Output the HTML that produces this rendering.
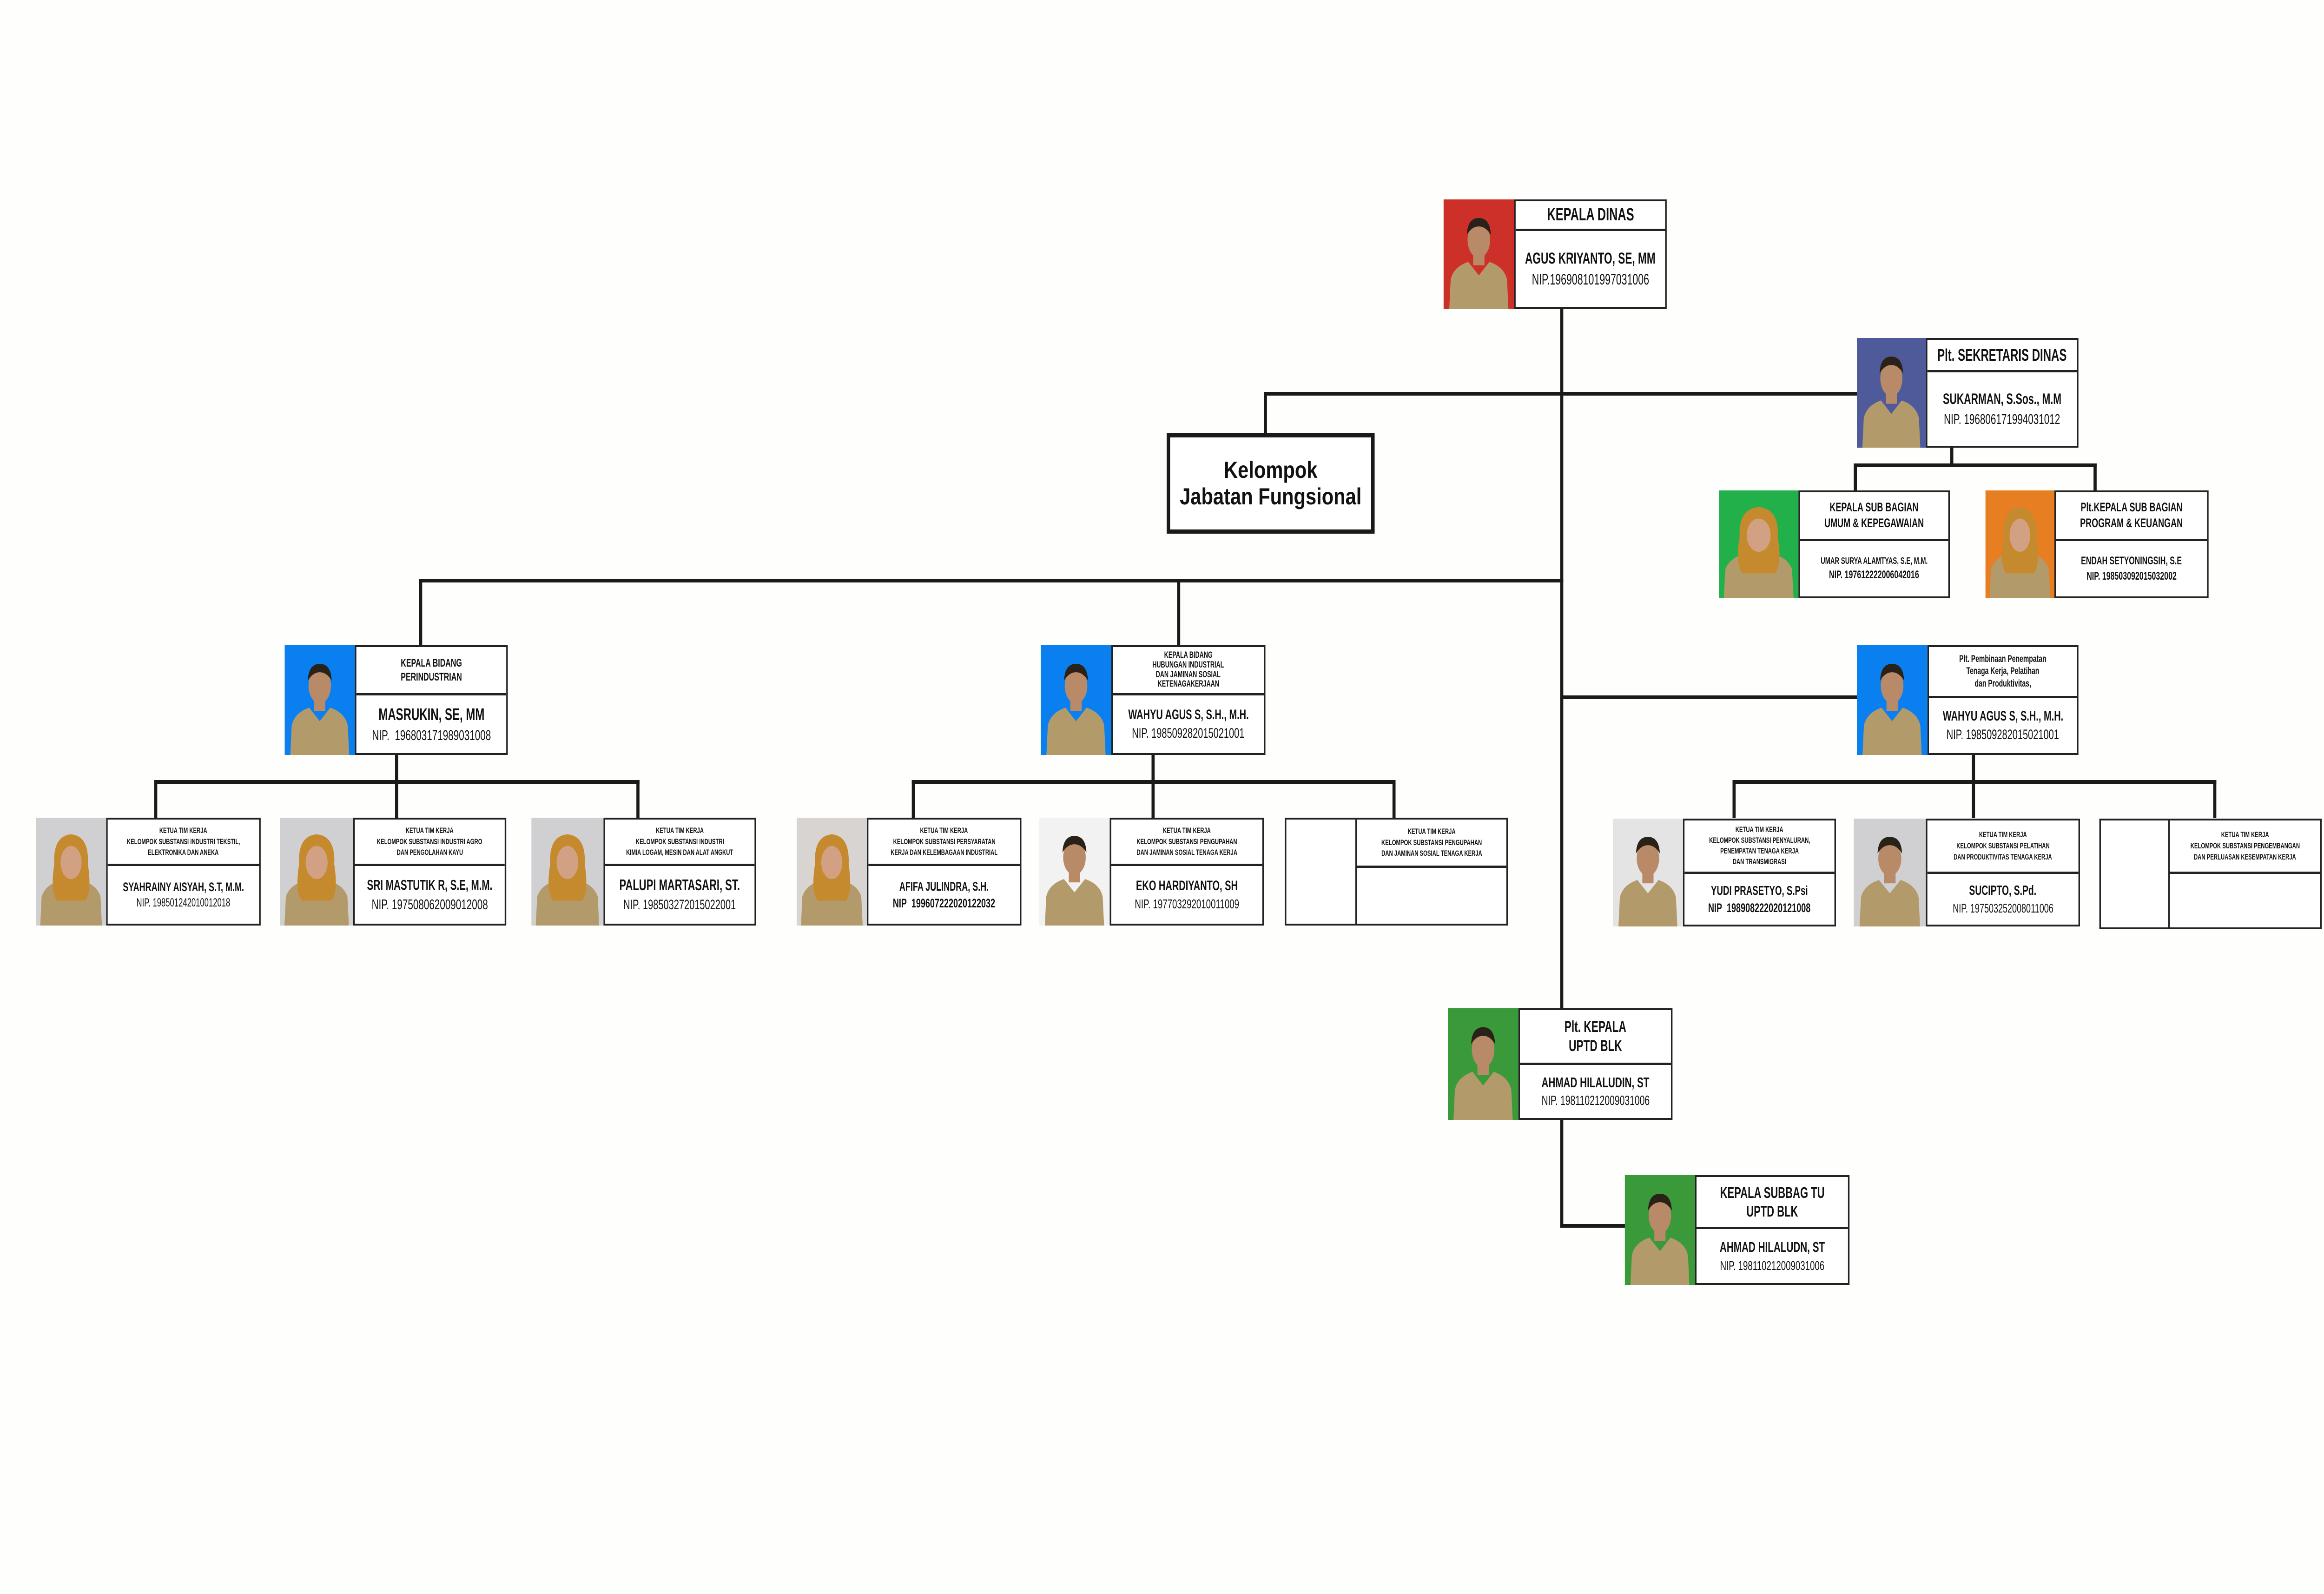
<!DOCTYPE html>
<html><head><meta charset="utf-8">
<style>
*{margin:0;padding:0;box-sizing:border-box}
html,body{width:100%;height:100%;overflow:hidden;background:#fefefc}
#root{position:fixed;left:0;top:0;width:100vw;height:100vh;display:block}
#pg{width:6000px;height:3429px;position:relative;background:#fefefc;font-family:"Liberation Sans Narrow","Liberation Sans",sans-serif;color:#111}
.l{position:absolute;background:#1a1a1a}
.c{position:absolute;display:flex}
.ph{height:100%;position:relative;overflow:hidden}
.ph svg{position:absolute;left:0;top:0;width:100%;height:100%}
.bx{flex:1;height:100%;border:4px solid #222;display:flex;flex-direction:column;background:#fff;overflow:hidden}
.hd{border-bottom:5px solid #222;display:flex;flex-direction:column;align-items:center;justify-content:center;text-align:center;font-weight:bold;line-height:1.25}
.bd{flex:1;display:flex;flex-direction:column;align-items:center;justify-content:center;text-align:center;line-height:1.35}
.hd>div,.bd>div{white-space:nowrap;transform:scaleX(0.8)}
.nm{font-weight:bold}
</style></head><body>
<svg id="root" viewBox="0 0 6000 3429" preserveAspectRatio="none" xmlns="http://www.w3.org/2000/svg">
<defs>
<symbol id="m" viewBox="0 0 100 130" preserveAspectRatio="none">
<path d="M8 130 L10 95 Q14 80 35 74 L50 90 L65 74 Q86 80 90 95 L92 130Z" fill="#b39a6a"/>
<rect x="42" y="62" width="16" height="16" fill="#b88a68"/>
<ellipse cx="50" cy="48" rx="16" ry="21" fill="#b88a68"/>
<path d="M33 42 Q34 22 50 22 Q66 22 67 42 Q60 32 50 32 Q40 32 33 42Z" fill="#2a2218"/>
</symbol>
<symbol id="f" viewBox="0 0 100 130" preserveAspectRatio="none">
<path d="M6 130 L8 95 Q14 80 35 76 L65 76 Q86 80 92 95 L94 130Z" fill="#b39a6a"/>
<path d="M26 56 Q24 22 50 20 Q76 22 74 56 Q80 90 70 100 L30 100 Q20 90 26 56Z" fill="#c68a2e"/>
<ellipse cx="50" cy="54" rx="15" ry="20" fill="#d2a184"/>
</symbol>
</defs>
<foreignObject x="0" y="0" width="6000" height="3429">
<div xmlns="http://www.w3.org/1999/xhtml" id="pg">

<div class="l" style="left:4028px;top:665px;width:8px;height:1976px"></div>
<div class="l" style="left:3263px;top:843px;width:1535px;height:8px"></div>
<div class="l" style="left:3263px;top:843px;width:8px;height:92px"></div>
<div class="l" style="left:5035px;top:963px;width:8px;height:40px"></div>
<div class="l" style="left:4786px;top:997px;width:627px;height:8px"></div>
<div class="l" style="left:4786px;top:997px;width:8px;height:60px"></div>
<div class="l" style="left:5405px;top:997px;width:8px;height:60px"></div>
<div class="l" style="left:1082px;top:1245px;width:2954px;height:8px"></div>
<div class="l" style="left:1082px;top:1245px;width:8px;height:145px"></div>
<div class="l" style="left:3039px;top:1245px;width:8px;height:145px"></div>
<div class="l" style="left:4028px;top:1496px;width:770px;height:8px"></div>
<div class="l" style="left:1020px;top:1624px;width:8px;height:60px"></div>
<div class="l" style="left:398px;top:1678px;width:1253px;height:8px"></div>
<div class="l" style="left:398px;top:1678px;width:8px;height:82px"></div>
<div class="l" style="left:1020px;top:1678px;width:8px;height:82px"></div>
<div class="l" style="left:1643px;top:1678px;width:8px;height:82px"></div>
<div class="l" style="left:2973px;top:1624px;width:8px;height:60px"></div>
<div class="l" style="left:2354px;top:1678px;width:1249px;height:8px"></div>
<div class="l" style="left:2354px;top:1678px;width:8px;height:82px"></div>
<div class="l" style="left:2973px;top:1678px;width:8px;height:82px"></div>
<div class="l" style="left:3595px;top:1678px;width:8px;height:82px"></div>
<div class="l" style="left:5091px;top:1624px;width:8px;height:60px"></div>
<div class="l" style="left:4473px;top:1678px;width:1249px;height:8px"></div>
<div class="l" style="left:4473px;top:1678px;width:8px;height:82px"></div>
<div class="l" style="left:5091px;top:1678px;width:8px;height:82px"></div>
<div class="l" style="left:5714px;top:1678px;width:8px;height:82px"></div>
<div class="l" style="left:4028px;top:2633px;width:170px;height:8px"></div>

<div style="position:absolute;left:3012px;top:932px;width:537px;height:216px;border:9px solid #1a1a1a;background:#fff;display:flex;align-items:center;justify-content:center;text-align:center;font-family:'Liberation Sans',sans-serif;font-weight:bold;font-size:50px;line-height:1.15">Kelompok<br/>Jabatan Fungsional</div>

<div class="c" style="left:3727px;top:429px;width:576px;height:236px">
<div class="ph" style="width:182px;background:#cc3028"><svg viewBox="0 0 100 130" preserveAspectRatio="none"><use href="#m" width="100" height="130"/></svg></div>
<div class="bx"><div class="hd" style="height:64px;font-size:38px"><div>KEPALA DINAS</div></div>
<div class="bd"><div class="nm" style="font-size:34px">AGUS KRIYANTO, SE, MM</div><div style="font-size:32px">NIP.196908101997031006</div></div></div></div>

<div class="c" style="left:4794px;top:727px;width:572px;height:236px">
<div class="ph" style="width:178px;background:#4f5a9a"><svg viewBox="0 0 100 130" preserveAspectRatio="none"><use href="#m" width="100" height="130"/></svg></div>
<div class="bx"><div class="hd" style="height:70px;font-size:36px"><div>Plt. SEKRETARIS DINAS</div></div>
<div class="bd"><div class="nm" style="font-size:32px">SUKARMAN, S.Sos., M.M</div><div style="font-size:31px">NIP. 196806171994031012</div></div></div></div>

<div class="c" style="left:4438px;top:1055px;width:596px;height:232px">
<div class="ph" style="width:205px;background:#22b04b"><svg viewBox="0 0 100 130" preserveAspectRatio="none"><use href="#f" width="100" height="130"/></svg></div>
<div class="bx"><div class="hd" style="height:105px;font-size:27px"><div>KEPALA SUB BAGIAN</div><div>UMUM &amp; KEPEGAWAIAN</div></div>
<div class="bd"><div class="nm" style="font-size:20px">UMAR SURYA ALAMTYAS, S.E, M.M.</div><div class="nm" style="font-size:24px">NIP. 197612222006042016</div></div></div></div>

<div class="c" style="left:5126px;top:1055px;width:576px;height:232px">
<div class="ph" style="width:178px;background:#e87e22"><svg viewBox="0 0 100 130" preserveAspectRatio="none"><use href="#f" width="100" height="130"/></svg></div>
<div class="bx"><div class="hd" style="height:105px;font-size:27px"><div>Plt.KEPALA SUB BAGIAN</div><div>PROGRAM &amp; KEUANGAN</div></div>
<div class="bd"><div class="nm" style="font-size:24px">ENDAH SETYONINGSIH, S.E</div><div class="nm" style="font-size:24px">NIP. 198503092015032002</div></div></div></div>

<div class="c" style="left:735px;top:1388px;width:576px;height:236px">
<div class="ph" style="width:181px;background:#0a80f0"><svg viewBox="0 0 100 130" preserveAspectRatio="none"><use href="#m" width="100" height="130"/></svg></div>
<div class="bx"><div class="hd" style="height:104px;font-size:24px"><div>KEPALA BIDANG</div><div>PERINDUSTRIAN</div></div>
<div class="bd"><div class="nm" style="font-size:36px">MASRUKIN, SE, MM</div><div style="font-size:31px">NIP.&#160; 196803171989031008</div></div></div></div>

<div class="c" style="left:2687px;top:1388px;width:580px;height:236px">
<div class="ph" style="width:182px;background:#0a80f0"><svg viewBox="0 0 100 130" preserveAspectRatio="none"><use href="#m" width="100" height="130"/></svg></div>
<div class="bx"><div class="hd" style="height:104px;font-size:19px;line-height:1.1"><div>KEPALA BIDANG</div><div>HUBUNGAN INDUSTRIAL</div><div>DAN JAMINAN SOSIAL</div><div>KETENAGAKERJAAN</div></div>
<div class="bd"><div class="nm" style="font-size:30px">WAHYU AGUS S, S.H., M.H.</div><div style="font-size:30px">NIP. 198509282015021001</div></div></div></div>

<div class="c" style="left:4794px;top:1388px;width:572px;height:236px">
<div class="ph" style="width:182px;background:#0a80f0"><svg viewBox="0 0 100 130" preserveAspectRatio="none"><use href="#m" width="100" height="130"/></svg></div>
<div class="bx"><div class="hd" style="height:110px;font-size:21px;line-height:1.25"><div>Plt. Pembinaan Penempatan</div><div>Tenaga Kerja, Pelatihan</div><div>dan Produktivitas,</div></div>
<div class="bd"><div class="nm" style="font-size:30px">WAHYU AGUS S, S.H., M.H.</div><div style="font-size:30px">NIP. 198509282015021001</div></div></div></div>

<div class="c" style="left:93px;top:1759px;width:580px;height:232px">
<div class="ph" style="width:181px;background:#d0d0d2"><svg viewBox="0 0 100 130" preserveAspectRatio="none"><use href="#f" width="100" height="130"/></svg></div>
<div class="bx"><div class="hd" style="height:100px;font-size:17px;line-height:1.4"><div>KETUA TIM KERJA</div><div>KELOMPOK SUBSTANSI INDUSTRI TEKSTIL,</div><div>ELEKTRONIKA DAN ANEKA</div></div>
<div class="bd"><div class="nm" style="font-size:27px">SYAHRAINY AISYAH, S.T, M.M.</div><div style="font-size:25px">NIP. 198501242010012018</div></div></div></div>

<div class="c" style="left:723px;top:1759px;width:584px;height:232px">
<div class="ph" style="width:189px;background:#d0d0d2"><svg viewBox="0 0 100 130" preserveAspectRatio="none"><use href="#f" width="100" height="130"/></svg></div>
<div class="bx"><div class="hd" style="height:100px;font-size:17px;line-height:1.4"><div>KETUA TIM KERJA</div><div>KELOMPOK SUBSTANSI INDUSTRI AGRO</div><div>DAN PENGOLAHAN KAYU</div></div>
<div class="bd"><div class="nm" style="font-size:31px">SRI MASTUTIK R, S.E, M.M.</div><div style="font-size:31px">NIP. 197508062009012008</div></div></div></div>

<div class="c" style="left:1372px;top:1759px;width:580px;height:232px">
<div class="ph" style="width:186px;background:#d0d0d2"><svg viewBox="0 0 100 130" preserveAspectRatio="none"><use href="#f" width="100" height="130"/></svg></div>
<div class="bx"><div class="hd" style="height:100px;font-size:17px;line-height:1.4"><div>KETUA TIM KERJA</div><div>KELOMPOK SUBSTANSI INDUSTRI</div><div>KIMIA LOGAM, MESIN DAN ALAT ANGKUT</div></div>
<div class="bd"><div class="nm" style="font-size:33px">PALUPI MARTASARI, ST.</div><div style="font-size:30px">NIP. 198503272015022001</div></div></div></div>

<div class="c" style="left:2057px;top:1759px;width:580px;height:232px">
<div class="ph" style="width:181px;background:#d8d4d2"><svg viewBox="0 0 100 130" preserveAspectRatio="none"><use href="#f" width="100" height="130"/></svg></div>
<div class="bx"><div class="hd" style="height:100px;font-size:17px;line-height:1.4"><div>KETUA TIM KERJA</div><div>KELOMPOK SUBSTANSI PERSYARATAN</div><div>KERJA DAN KELEMBAGAAN INDUSTRIAL</div></div>
<div class="bd"><div class="nm" style="font-size:27px">AFIFA JULINDRA, S.H.</div><div class="nm" style="font-size:27px">NIP&#160; 199607222020122032</div></div></div></div>

<div class="c" style="left:2683px;top:1759px;width:580px;height:232px">
<div class="ph" style="width:182px;background:#f2f2f2"><svg viewBox="0 0 100 130" preserveAspectRatio="none"><use href="#m" width="100" height="130"/></svg></div>
<div class="bx"><div class="hd" style="height:100px;font-size:17px;line-height:1.4"><div>KETUA TIM KERJA</div><div>KELOMPOK SUBSTANSI PENGUPAHAN</div><div>DAN JAMINAN SOSIAL TENAGA KERJA</div></div>
<div class="bd"><div class="nm" style="font-size:30px">EKO HARDIYANTO, SH</div><div style="font-size:28px">NIP. 197703292010011009</div></div></div></div>

<div class="c" style="left:3317px;top:1759px;width:576px;height:232px">
<div class="ph" style="width:182px;border:4px solid #222;border-right:none;background:#fff"></div>
<div class="bx"><div class="hd" style="height:104px;font-size:17px;line-height:1.4"><div>KETUA TIM KERJA</div><div>KELOMPOK SUBSTANSI PENGUPAHAN</div><div>DAN JAMINAN SOSIAL TENAGA KERJA</div></div>
<div class="bd"></div></div></div>

<div class="c" style="left:4164px;top:1761px;width:576px;height:232px">
<div class="ph" style="width:181px;background:#e4e4e4"><svg viewBox="0 0 100 130" preserveAspectRatio="none"><use href="#m" width="100" height="130"/></svg></div>
<div class="bx"><div class="hd" style="height:115px;font-size:17px;line-height:1.35"><div>KETUA TIM KERJA</div><div>KELOMPOK SUBSTANSI PENYALURAN,</div><div>PENEMPATAN TENAGA KERJA</div><div>DAN TRANSMIGRASI</div></div>
<div class="bd"><div class="nm" style="font-size:28px">YUDI PRASETYO, S.Psi</div><div class="nm" style="font-size:27px">NIP&#160; 198908222020121008</div></div></div></div>

<div class="c" style="left:4786px;top:1761px;width:584px;height:232px">
<div class="ph" style="width:186px;background:#d0d0d2"><svg viewBox="0 0 100 130" preserveAspectRatio="none"><use href="#m" width="100" height="130"/></svg></div>
<div class="bx"><div class="hd" style="height:115px;font-size:17px;line-height:1.4"><div>KETUA TIM KERJA</div><div>KELOMPOK SUBSTANSI PELATIHAN</div><div>DAN PRODUKTIVITAS TENAGA KERJA</div></div>
<div class="bd"><div class="nm" style="font-size:29px">SUCIPTO, S.Pd.</div><div style="font-size:27px">NIP. 197503252008011006</div></div></div></div>

<div class="c" style="left:5420px;top:1761px;width:574px;height:238px">
<div class="ph" style="width:178px;border:4px solid #222;border-right:none;background:#fff"></div>
<div class="bx"><div class="hd" style="height:115px;font-size:17px;line-height:1.4"><div>KETUA TIM KERJA</div><div>KELOMPOK SUBSTANSI PENGEMBANGAN</div><div>DAN PERLUASAN KESEMPATAN KERJA</div></div>
<div class="bd"></div></div></div>

<div class="c" style="left:3738px;top:2169px;width:580px;height:240px">
<div class="ph" style="width:182px;background:#3a9a3a"><svg viewBox="0 0 100 130" preserveAspectRatio="none"><use href="#m" width="100" height="130"/></svg></div>
<div class="bx"><div class="hd" style="height:118px;font-size:34px;line-height:1.2"><div>Plt. KEPALA</div><div>UPTD BLK</div></div>
<div class="bd"><div class="nm" style="font-size:31px">AHMAD HILALUDIN, ST</div><div style="font-size:29px">NIP. 198110212009031006</div></div></div></div>

<div class="c" style="left:4195px;top:2528px;width:580px;height:236px">
<div class="ph" style="width:181px;background:#3a9a3a"><svg viewBox="0 0 100 130" preserveAspectRatio="none"><use href="#m" width="100" height="130"/></svg></div>
<div class="bx"><div class="hd" style="height:112px;font-size:33px;line-height:1.2"><div>KEPALA SUBBAG TU</div><div>UPTD BLK</div></div>
<div class="bd"><div class="nm" style="font-size:31px">AHMAD HILALUDN, ST</div><div style="font-size:28px">NIP. 198110212009031006</div></div></div></div>

</div>
</foreignObject>
</svg>
</body></html>
